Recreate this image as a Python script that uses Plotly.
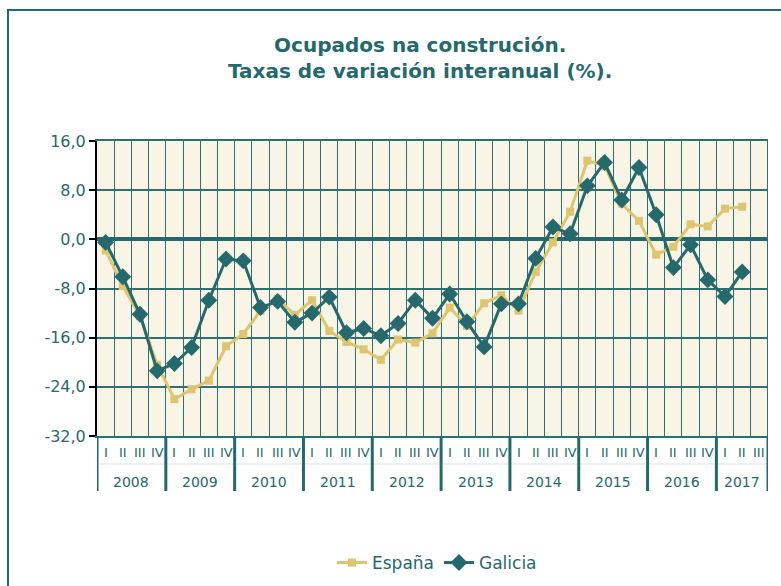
import plotly.graph_objects as go

quarters = ["I", "II", "III", "IV"] * 9 + ["I", "II", "III"]
years = ["2008", "2009", "2010", "2011", "2012", "2013", "2014", "2015", "2016", "2017"]

espana = [-1.8, -7.6, -12.5, -20.4, -26.0, -24.4, -23.0, -17.4, -15.4, -11.6,
          -9.7, -12.3, -9.9, -14.9, -16.7, -17.9, -19.6, -16.3, -16.8, -15.3,
          -11.1, -14.1, -10.4, -9.1, -11.6, -5.3, -0.5, 4.5, 12.8, 12.0,
          5.8, 3.0, -2.5, -1.2, 2.45, 2.1, 5.0, 5.3, None]
galicia = [-0.5, -6.1, -12.2, -21.4, -20.2, -17.6, -9.9, -3.2, -3.5, -11.1,
           -10.1, -13.5, -12.0, -9.4, -15.2, -14.5, -15.7, -13.7, -9.9, -12.85,
           -8.9, -13.4, -17.5, -10.5, -10.5, -3.1, 2.0, 0.9, 8.7, 12.5,
           6.4, 11.7, 4.0, -4.6, -0.9, -6.6, -9.3, -5.3, None]

ytick_vals = [16, 8, 0, -8, -16, -24, -32]
ytick_text = ["16,0", "8,0", "0,0", "-8,0", "-16,0", "-24,0", "-32,0"]

TEAL = "#26696C"
GRID = "#2E6F71"
YELLOW = "#DEC56F"
FONT = "DejaVu Sans, Liberation Sans, Arial"

n = len(quarters)
xs = list(range(n))

fig = go.Figure()
fig.add_trace(go.Scatter(x=xs, y=espana, name="España", mode="lines+markers",
                         line=dict(color=YELLOW, width=3),
                         marker=dict(symbol="square", size=8, color=YELLOW)))
fig.add_trace(go.Scatter(x=xs, y=galicia, name="Galicia", mode="lines+markers",
                         line=dict(color=TEAL, width=3),
                         marker=dict(symbol="diamond", size=13, color=TEAL)))

W, H = 781, 586
L, R, T, B = 97, 13, 141, 150
pw = W - L - R
ph = H - T - B

def py(px_y):
    return 1 - (px_y - T) / ph

def pxx(px_x):
    return (px_x - L) / pw

shapes = []
# outer frame
shapes.append(dict(type="rect", xref="paper", yref="paper",
                   x0=pxx(8), x1=pxx(800), y0=py(620), y1=py(10),
                   line=dict(color=TEAL, width=2), fillcolor="rgba(0,0,0,0)", layer="below"))
# right border of plot
shapes.append(dict(type="line", xref="x", yref="paper", x0=n - 0.5, x1=n - 0.5, y0=0, y1=1,
                   line=dict(color=GRID, width=2)))
# faint separator in axis area
shapes.append(dict(type="line", xref="x", yref="paper", x0=-0.5, x1=n - 0.5,
                   y0=py(464), y1=py(464), line=dict(color="#d9e5e5", width=1)))
# year separators
seps = [4 * i - 0.5 for i in range(10)] + [n - 0.5]
for s in seps:
    shapes.append(dict(type="line", xref="x", yref="paper", x0=s, x1=s,
                       y0=py(491), y1=0, line=dict(color=TEAL, width=3)))

annotations = []
for k, q in enumerate(quarters):
    annotations.append(dict(x=k, y=py(452), xref="x", yref="paper", text=q, showarrow=False,
                            font=dict(size=13, color=TEAL, family=FONT),
                            xanchor="center", yanchor="middle"))
for i, yr in enumerate(years):
    start = 4 * i
    end = min(4 * i + 3, n - 1)
    annotations.append(dict(x=(start + end) / 2, y=py(482), xref="x", yref="paper", text=yr,
                            showarrow=False,
                            font=dict(size=14, color=TEAL, family=FONT),
                            xanchor="center", yanchor="middle"))
annotations.append(dict(x=pxx(420), y=py(58), xref="paper", yref="paper",
                        text="<b>Ocupados na construción.<br>Taxas de variación interanual (%).</b>",
                        showarrow=False, align="center",
                        font=dict(size=20, color=TEAL, family=FONT),
                        xanchor="center", yanchor="middle"))

fig.update_layout(
    width=W, height=H,
    margin=dict(l=L, r=R, t=T, b=B, autoexpand=False),
    paper_bgcolor="white",
    plot_bgcolor="#F8F4E6",
    showlegend=True,
    legend=dict(orientation="h", x=pxx(437), xanchor="center", y=py(563), yanchor="middle",
                font=dict(size=17, color=TEAL, family=FONT),
                bgcolor="rgba(0,0,0,0)"),
    shapes=shapes,
    annotations=annotations,
    xaxis=dict(range=[-0.5, n - 0.5], tickvals=[k + 0.5 for k in range(-1, n)],
               showticklabels=False, ticks="", showgrid=True, gridcolor=GRID, gridwidth=1.3,
               showline=True, linecolor=GRID, linewidth=2, mirror=True, zeroline=False,
               fixedrange=True),
    yaxis=dict(range=[-32, 16], tickvals=ytick_vals, ticktext=ytick_text,
               ticks="outside", ticklen=6, tickcolor="black", tickwidth=1.5,
               showgrid=True, gridcolor=GRID, gridwidth=1.5,
               zeroline=True, zerolinecolor=TEAL, zerolinewidth=3.5,
               showline=True, linecolor="black", linewidth=2,
               tickfont=dict(size=16, color=TEAL, family=FONT),
               fixedrange=True),
)

fig.write_html("out.html", config={"displayModeBar": False},
               post_script="document.body.style.margin='0px';document.body.style.overflow='hidden';")
